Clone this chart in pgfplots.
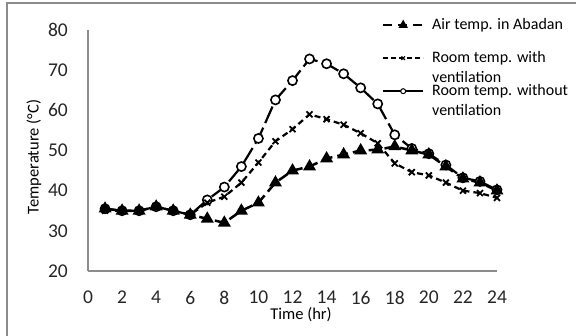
\documentclass[border=0pt]{standalone}
\usepackage{fontspec}
\setmainfont{Carlito}
\usepackage{pgfplots}
\pgfplotsset{compat=1.18}

\definecolor{axisgray}{HTML}{8C8C8C}

% Hourly temperatures (deg C)
\pgfplotstableread{
hour air withvent without
1  35.5 35.0 35.5
2  35.0 35.0 35.0
3  35.0 35.0 35.0
4  36.0 36.0 36.0
5  35.0 35.0 35.0
6  34.0 34.0 34.0
7  33.0 37.0 37.7
8  32.0 38.5 40.9
9  35.0 42.0 46.0
10 37.0 47.0 53.0
11 42.0 52.3 62.6
12 45.0 55.3 67.4
13 46.0 59.0 72.8
14 48.0 57.8 71.6
15 49.0 56.4 69.1
16 50.0 54.3 65.6
17 50.2 51.8 61.6
18 51.0 46.8 53.9
19 50.0 44.6 50.5
20 49.0 43.8 49.2
21 46.0 42.0 46.4
22 43.0 40.0 43.2
23 42.0 39.4 42.3
24 40.0 38.2 40.2
}\temps

% legend samples
\pgfplotsset{
  airleg/.style={legend image code/.code={
    \draw[black, line width=2pt, dash pattern=on 9pt off 6pt] (0pt,0pt) -- (40pt,0pt);
    \draw[black, mark=triangle*, mark size=3pt, mark repeat=2, mark phase=2, draw=none]
      plot coordinates {(0pt,0pt) (20pt,0pt) (40pt,0pt)};}},
  ventleg/.style={legend image code/.code={
    \draw[black, line width=2pt, dash pattern=on 5pt off 3pt] (0pt,0pt) -- (40pt,0pt);
    \draw[black, mark=x, mark size=2.5pt, mark options={line width=1.2pt}, mark repeat=2, mark phase=2, draw=none]
      plot coordinates {(0pt,0pt) (20pt,0pt) (40pt,0pt)};}},
  noventleg/.style={legend image code/.code={
    \draw[black, line width=2pt] (0pt,0pt) -- (40pt,0pt);
    \draw[black, mark=*, mark size=2.5pt, mark options={fill=white, line width=1pt}, mark repeat=2, mark phase=2, draw=none]
      plot coordinates {(0pt,0pt) (20pt,0pt) (40pt,0pt)};}},
}

\begin{document}
\begin{tikzpicture}
\path[use as bounding box] (0pt,0pt) rectangle (576pt,335pt);
\draw[axisgray, line width=1.2pt] (7pt,-1pt) -- (7pt,332pt) -- (577pt,332pt);
\begin{axis}[
  at={(88pt,64pt)}, anchor=south west,
  scale only axis, width=409pt, height=241pt,
  xmin=0, xmax=24, ymin=20, ymax=80,
  xtick={0,2,...,24}, ytick={20,30,...,80},
  axis x line=bottom, axis y line=left,
  axis line style={-, draw=axisgray, line width=1.5pt},
  major tick length=0pt,
  clip=false,
  /pgf/number format/assume math mode=true,
  tick label style={font=\fontsize{19.5}{22}\selectfont, text=black!85},
  yticklabel style={anchor=east, inner sep=0pt, xshift=-20pt},
  xticklabel style={anchor=north, inner sep=0pt, yshift=-20pt},
  xlabel={Time (hr)}, ylabel={Temperature (°C)},
  label style={font=\fontsize{16.5}{19}\selectfont},
  xlabel style={at={(axis description cs:0.5,0)}, anchor=center, inner sep=0pt, yshift=-44pt, xshift=8.5pt},
  ylabel style={at={(axis description cs:0,0.5)}, anchor=center, inner sep=0pt, yshift=54pt, xshift=-6.5pt},
  legend style={at={(axis description cs:0.7188,1.054)}, anchor=north west,
    draw=none, fill=none, inner sep=0pt, row sep=17pt, column sep=8pt,
    nodes={inner sep=0pt, text height=12pt, text depth=4pt, font=\fontsize{16}{20}\selectfont}},
  legend cell align=left,
  reverse legend,
]
% room without ventilation (drawn first, so the other series sit on top)
\addplot[black, line width=2.2pt, dash pattern=on 18pt off 5pt,
  mark=*, mark size=4.6pt, mark options={solid, fill=white, line width=1.6pt}, noventleg]
  table[x=hour, y=without] {\temps};
\addlegendentry{\parbox[t]{150pt}{Room temp. without\\ventilation}}
% room with ventilation
\addplot[black, line width=2.2pt, dash pattern=on 6pt off 4pt,
  mark=x, mark size=4.2pt, mark options={solid, line width=1.8pt}, ventleg]
  table[x=hour, y=withvent] {\temps};
\addlegendentry{\parbox[t]{150pt}{Room temp. with\\ventilation}}
% air temperature in Abadan
\addplot[black, line width=2.5pt, dash pattern=on 11pt off 5pt,
  mark=triangle*, mark size=5pt, mark options={solid}, airleg]
  table[x=hour, y=air] {\temps};
\addlegendentry{Air temp. in Abadan}
\end{axis}
\end{tikzpicture}
\end{document}
